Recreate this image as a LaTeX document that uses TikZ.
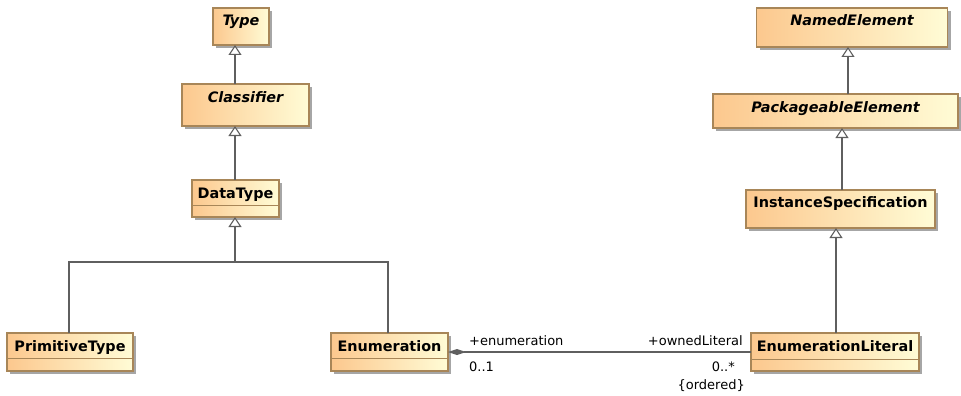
\documentclass[tikz,border=0pt]{standalone}
\usepackage{fontspec}
\newfontfamily\dvs{DejaVu Sans}
\usetikzlibrary{arrows.meta,shadows,calc}
\definecolor{lc}{RGB}{252,200,142}
\definecolor{rc}{RGB}{255,252,214}
\definecolor{bc}{RGB}{168,134,88}
\definecolor{lnc}{RGB}{95,95,95}
\begin{document}
\begin{tikzpicture}[x=1pt,y=-1pt,
 cls/.style={draw=bc, line width=1.2pt, left color=lc, right color=rc,
   drop shadow={shadow xshift=3pt,shadow yshift=-3pt,fill=black,opacity=0.35},
   inner sep=0pt, outer sep=0pt},
 nm/.style={font=\dvs\bfseries\fontsize{14.4}{16}\selectfont, inner sep=0pt, anchor=base},
 ab/.style={font=\dvs\bfseries\itshape\fontsize{14.4}{16}\selectfont, inner sep=0pt, anchor=base},
 lbl/.style={font=\dvs\fontsize{13}{15}\selectfont, inner sep=0pt},
 conn/.style={draw=lnc, line width=1.3pt},
 gen/.style={conn, -{Triangle[length=10pt,width=13pt,fill=white,line width=1.1pt]}},
 comp/.style={conn, {Diamond[length=18pt,width=6pt,fill=lnc]}-},
 comline/.style={draw=bc, line width=1pt}
]
\useasboundingbox (0,0) rectangle (961,396);

% boxes
\node[cls, minimum width=56pt, minimum height=37pt] (type) at (241,26.5) {};
\node[cls, minimum width=127pt, minimum height=42pt] (cls) at (245.5,105) {};
\node[cls, minimum width=87pt, minimum height=37pt] (dt) at (235.5,198.5) {};
\node[cls, minimum width=126pt, minimum height=38pt] (prim) at (70,352) {};
\node[cls, minimum width=117pt, minimum height=38pt] (enum) at (389.5,352) {};
\node[cls, minimum width=168pt, minimum height=38pt] (el) at (835,352) {};
\node[cls, minimum width=191pt, minimum height=39pt] (ne) at (852,27.5) {};
\node[cls, minimum width=245pt, minimum height=34pt] (pe) at (835.5,111) {};
\node[cls, minimum width=189pt, minimum height=38pt] (is) at (840.5,209) {};

% compartments
\draw[comline] ($(dt.north west)+(0,25)$) -- ($(dt.north east)+(0,25)$);
\draw[comline] ($(prim.north west)+(0,25)$) -- ($(prim.north east)+(0,25)$);
\draw[comline] ($(enum.north west)+(0,25)$) -- ($(enum.north east)+(0,25)$);
\draw[comline] ($(el.north west)+(0,26)$) -- ($(el.north east)+(0,26)$);

% names
\node[ab] (typeT) at ($(type.north)+(0,18)$) {Type};
\node[ab] (clsT) at ($(cls.north)+(0,18)$) {Classifier};
\node[nm] (dtT) at ($(dt.north)+(0,18)$) {DataType};
\node[nm] (primT) at ($(prim.north)+(0,18)$) {PrimitiveType};
\node[nm] (enumT) at ($(enum.north)+(0,18)$) {Enumeration};
\node[nm] (elT) at ($(el.north)+(0,18)$) {EnumerationLiteral};
\node[ab] (neT) at ($(ne.north)+(0,17.5)$) {NamedElement};
\node[ab] (peT) at ($(pe.north)+(0,18)$) {PackageableElement};
\node[nm] (isT) at ($(is.north)+(0,17.5)$) {InstanceSpecification};

% connector guide coordinates
\coordinate (xL) at (235,0);
\coordinate (j) at (235,262);
\coordinate (xP) at (69,0);
\coordinate (xE) at (388,0);
\coordinate (xA) at (848,0);
\coordinate (xB) at (842,0);
\coordinate (xC) at (836,0);

% generalizations
\draw[gen] (cls.north -| xL) -- (type.south -| xL);
\draw[gen] (dt.north -| xL) -- (cls.south -| xL);
\draw[conn] (prim.north -| xP) |- (j);
\draw[conn] (enum.north -| xE) |- (j);
\draw[gen] (j) -- (dt.south -| xL);
\draw[gen] (pe.north -| xA) -- (ne.south -| xA);
\draw[gen] (is.north -| xB) -- (pe.south -| xB);
\draw[gen] (el.north -| xC) -- (is.south -| xC);

% association
\draw[comp] (enum.east) -- (el.west);
\node[lbl, anchor=base west] (r1) at (469,345) {+enumeration};
\node[lbl, anchor=base west] (m1) at (469,371.5) {0..1};
\node[lbl, anchor=base east] (r2) at (743,345) {+ownedLiteral};
\node[lbl, anchor=base east] (m2) at (735,371.5) {0..*};
\node[lbl, anchor=base east] (o2) at (745,389.5) {\{ordered\}};
\end{tikzpicture}
\end{document}
